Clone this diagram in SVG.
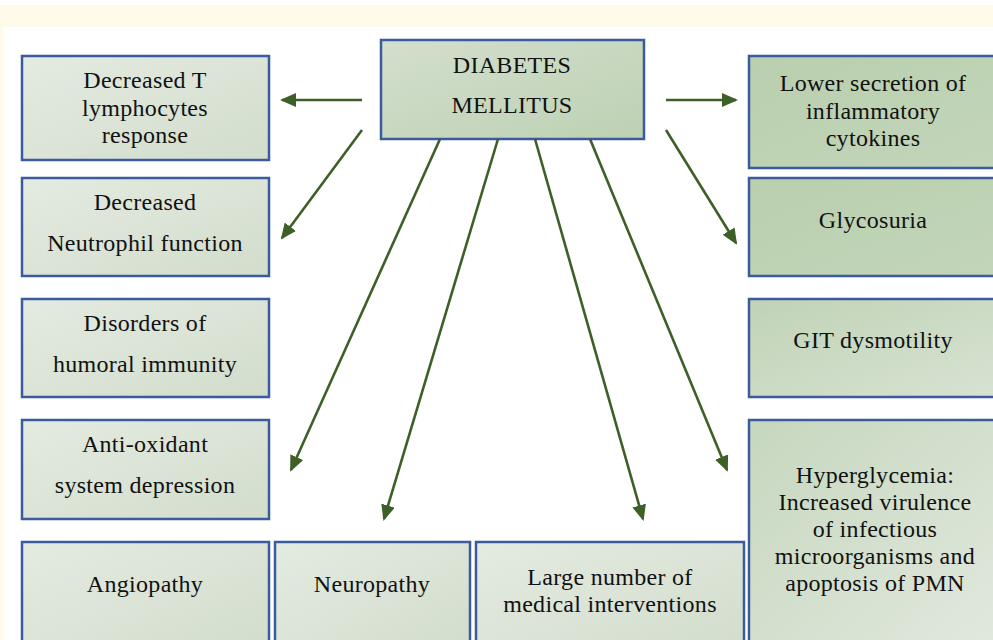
<svg xmlns="http://www.w3.org/2000/svg" width="993" height="640" viewBox="0 0 993 640">
<style>
.box{stroke:#3b5b9c;stroke-width:2.5}
text{font-family:'Liberation Serif','DejaVu Serif','Noto Serif','Times New Roman',Times,serif;font-size:24px;fill:#111;text-anchor:middle;letter-spacing:0.3px}
.c{stroke:#3e5f27;stroke-width:2.6;fill:none;marker-end:url(#ah)}
</style>
<defs>
<marker id="ah" markerUnits="userSpaceOnUse" markerWidth="16" markerHeight="14" refX="14" refY="7" orient="auto">
<path d="M0,0 L16,7 L0,14 Z" fill="#3e5f27"/>
</marker>
<linearGradient id="gl" x1="0" y1="0" x2="1" y2="1">
<stop offset="0" stop-color="#e4ebe1"/><stop offset="1" stop-color="#d2ddcc"/>
</linearGradient>
<linearGradient id="gc" x1="0" y1="0" x2="1" y2="1">
<stop offset="0" stop-color="#d3dfcd"/><stop offset="1" stop-color="#bdd1b3"/>
</linearGradient>
<linearGradient id="gr" x1="0" y1="0" x2="1" y2="1">
<stop offset="0" stop-color="#b9cfae"/><stop offset="1" stop-color="#c3d5ba"/>
</linearGradient>
<linearGradient id="gg" x1="0" y1="0" x2="1" y2="1">
<stop offset="0" stop-color="#c0d3b6"/><stop offset="1" stop-color="#d8e3d3"/>
</linearGradient>
<linearGradient id="gh" x1="0" y1="0" x2="1" y2="1">
<stop offset="0" stop-color="#c6d7be"/><stop offset="1" stop-color="#e2e9df"/>
</linearGradient>
</defs>
<rect x="0" y="0" width="993" height="640" fill="#ffffff"/>
<rect x="0" y="5" width="993" height="22" fill="#fefbea"/>
<rect x="0" y="5" width="3" height="635" fill="#fefbea"/>

<g id="n-dm"><rect class="box" x="381" y="40" width="263" height="99" fill="url(#gc)"/>
<text x="512" y="73" font-family="Liberation Serif, serif">DIABETES</text><text x="512" y="113" font-family="Liberation Serif, serif">MELLITUS</text></g>

<g id="n-tlym"><rect class="box" x="22" y="56" width="247" height="104" fill="url(#gl)"/>
<text x="145" y="88">Decreased T</text><text x="145" y="116">lymphocytes</text><text x="145" y="143">response</text></g>

<g id="n-neut"><rect class="box" x="22" y="178" width="247" height="98" fill="url(#gl)"/>
<text x="145" y="210">Decreased</text><text x="145" y="251">Neutrophil function</text></g>

<g id="n-humoral"><rect class="box" x="22" y="299" width="247" height="98" fill="url(#gl)"/>
<text x="145" y="331">Disorders of</text><text x="145" y="372">humoral immunity</text></g>

<g id="n-antiox"><rect class="box" x="22" y="420" width="247" height="99" fill="url(#gl)"/>
<text x="145" y="452">Anti-oxidant</text><text x="145" y="493">system depression</text></g>

<g id="n-angio"><rect class="box" x="22" y="542" width="247" height="110" fill="url(#gl)"/>
<text x="145" y="592">Angiopathy</text></g>

<g id="n-neuro"><rect class="box" x="275" y="542" width="195" height="110" fill="url(#gl)"/>
<text x="372" y="592">Neuropathy</text></g>

<g id="n-medical"><rect class="box" x="476" y="542" width="268" height="110" fill="url(#gl)"/>
<text x="610" y="585">Large number of</text><text x="610" y="612">medical interventions</text></g>

<g id="n-cyto"><rect class="box" x="749" y="56" width="260" height="112" fill="url(#gr)"/>
<text x="873" y="91">Lower secretion of</text><text x="873" y="119">inflammatory</text><text x="873" y="146">cytokines</text></g>

<g id="n-glyco"><rect class="box" x="749" y="178" width="260" height="98" fill="url(#gr)"/>
<text x="873" y="228">Glycosuria</text></g>

<g id="n-git"><rect class="box" x="749" y="299" width="260" height="98" fill="url(#gg)"/>
<text x="873" y="348">GIT dysmotility</text></g>

<g id="n-hyper"><rect class="box" x="749" y="420" width="260" height="232" fill="url(#gh)"/>
<text x="875" y="483">Hyperglycemia:</text><text x="875" y="510">Increased virulence</text><text x="875" y="537">of infectious</text><text x="875" y="564">microorganisms and</text><text x="875" y="591">apoptosis of PMN</text></g>

<g id="connectors">
<line class="c" x1="362" y1="100" x2="282" y2="100"/>
<line class="c" x1="666" y1="100" x2="736" y2="100"/>
<line class="c" x1="362" y1="130" x2="282" y2="238"/>
<line class="c" x1="666" y1="130" x2="736" y2="243"/>
<line class="c" x1="440" y1="139" x2="291" y2="470"/>
<line class="c" x1="498" y1="139" x2="384" y2="519"/>
<line class="c" x1="535" y1="139" x2="643" y2="519"/>
<line class="c" x1="590" y1="139" x2="727" y2="470"/>
</g>
</svg>
